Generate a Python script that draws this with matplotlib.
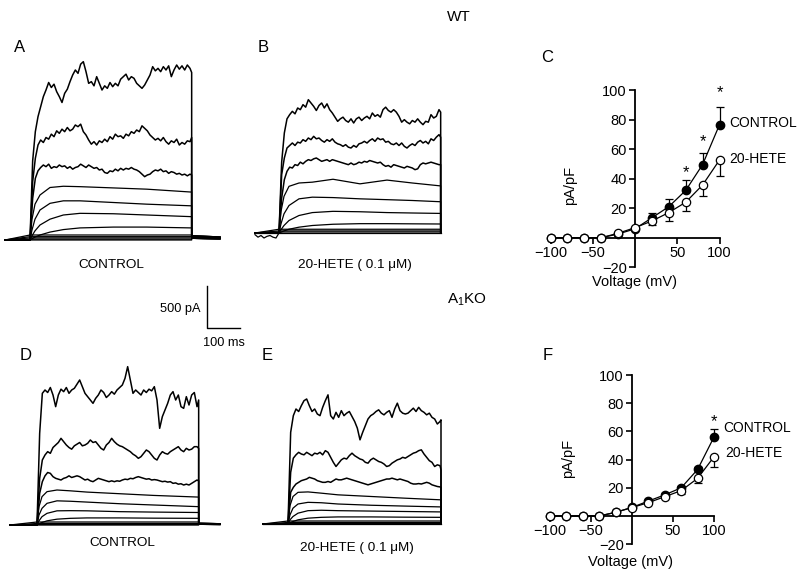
import matplotlib.pyplot as plt

plt.rcParams['font.family'] = ['Liberation Sans', 'DejaVu Sans']
plt.rcParams['mathtext.fontset'] = 'custom'
plt.rcParams['mathtext.rm'] = 'Liberation Sans'

LARG, ALT = 800, 579
MS_PX = 3.0    # ms por pixel
PA_PX = 12.0   # pA por pixel

# ---------------- curvas I-V (pA/pF) ----------------
voltagens = [-100, -80, -60, -40, -20, 0, 20, 40, 60, 80, 100]

c_controle = [0, 0, 0, 0, 2.5, 6, 13.5, 21, 32, 49.5, 76.5]
c_controle_erro = [0, 0, 0, 0, 0, 0, 3, 5, 7, 8, 12]
c_hete = [0, 0, 0, 0, 3, 6.8, 11.3, 17, 24, 35.7, 52.6]
c_hete_erro = [0, 0, 0, 0, 0, 0, 3, 6, 6, 7.5, 11]
c_estrelas_v = [60, 80, 100]
c_estrelas_y = [44, 65, 98]

f_controle = [0, 0, 0, 0, 2.6, 6.1, 10.6, 15, 20, 33, 56]
f_controle_erro = [0, 0, 0, 0, 0, 0, 0.5, 1, 1, 2, 6]
f_hete = [0, 0, 0, 0, 2.6, 6, 9.5, 13.7, 18, 26.7, 42]
f_hete_erro = [0, 0, 0, 0, 0, 0, 0.5, 1, 2.6, 3.5, 7]
f_estrelas_v = [100]
f_estrelas_y = [67]

# ---------------- correntes (ms, pA) ----------------
# tempos de leitura dos tracos ruidosos (A, B e D)
t_ruido = [0, 8, 16, 24, 32, 40, 48, 56,
           64, 72, 80, 88, 96, 104, 112, 120,
           128, 136, 144, 152, 160, 168, 176, 184,
           192, 200, 208, 216, 224, 232, 240, 248,
           256, 264, 272, 280, 288, 296, 304, 312,
           320, 328, 336, 344, 352, 360, 368, 376,
           384, 392, 400, 408, 416, 424, 432, 440,
           448, 456, 464, 472, 480, 485]
# painel E (pulso um pouco mais curto na figura)
t_ruido_e = [0, 8, 16, 24, 32, 40, 48, 56,
             64, 72, 80, 88, 96, 104, 112, 120,
             128, 136, 144, 152, 160, 168, 176, 184,
             192, 200, 208, 216, 224, 232, 240, 248,
             256, 264, 272, 280, 288, 296, 304, 312,
             320, 328, 336, 344, 352, 360, 368, 376,
             384, 392, 400, 408, 416, 424, 432, 440,
             448, 456, 459]

# painel A - WT controle
a1_i = [0, 950, 1300, 1480, 1600, 1720, 1800, 1890,
        1830, 1870, 1780, 1720, 1650, 1760, 1810, 1900,
        1980, 2040, 2000, 2110, 2140, 2020, 1880, 1900,
        1850, 1960, 1880, 1800, 1850, 1820, 1890, 1840,
        1880, 1850, 1930, 1960, 1990, 1920, 1960, 1940,
        1880, 1850, 1820, 1860, 1920, 1980, 2080, 2030,
        2060, 2020, 2080, 2040, 2090, 1960, 2040, 2100,
        2050, 2090, 2040, 2100, 2060, 2010]
a2_i = [0, 700, 980, 1140, 1200, 1170, 1230, 1210,
        1270, 1240, 1310, 1280, 1330, 1300, 1350, 1310,
        1330, 1380, 1360, 1390, 1300, 1260, 1200, 1150,
        1180, 1140, 1190, 1170, 1210, 1180, 1240, 1210,
        1270, 1240, 1250, 1220, 1270, 1250, 1300, 1280,
        1320, 1300, 1370, 1340, 1310, 1260, 1230, 1200,
        1220, 1190, 1230, 1180, 1150, 1190, 1170, 1210,
        1140, 1170, 1150, 1190, 1180, 1230]
a3_i = [0, 500, 740, 830, 870, 900, 880, 910,
        860, 880, 870, 900, 880, 890, 860, 880,
        850, 870, 880, 910, 890, 870, 900, 880,
        860, 870, 840, 850, 810, 800, 830, 820,
        850, 830, 860, 840, 860, 850, 870, 850,
        840, 820, 790, 760, 780, 790, 820, 840,
        830, 850, 820, 830, 800, 820, 810, 790,
        800, 780, 790, 770, 790, 780]
a_t_lento = [0, 6, 15, 30, 60, 100, 150, 250, 350, 485]
a4_i = [0, 250, 430, 540, 630, 645, 640, 625, 610, 575]
a5_i = [0, 120, 250, 360, 440, 470, 470, 450, 430, 410]
a6_i = [0, 50, 110, 180, 250, 300, 320, 315, 300, 280]
a7_i = [0, 15, 35, 60, 95, 125, 145, 155, 155, 145]
a_planos = [60, 40, 25, 10, 0]

# painel B - WT 20-HETE
b1_i = [0, 850, 1200, 1370, 1420, 1460, 1430, 1500,
        1480, 1540, 1510, 1600, 1560, 1520, 1470, 1530,
        1560, 1500, 1550, 1480, 1440, 1390, 1340, 1370,
        1390, 1350, 1330, 1370, 1320, 1370, 1390, 1350,
        1380, 1400, 1370, 1440, 1400, 1420, 1390, 1480,
        1510, 1470, 1450, 1480, 1450, 1400, 1330, 1360,
        1330, 1310, 1350, 1330, 1370, 1330, 1300, 1340,
        1330, 1420, 1380, 1400, 1480, 1450]
b2_i = [0, 700, 900, 1020, 1050, 1080, 1050, 1090,
        1080, 1120, 1100, 1140, 1120, 1160, 1130, 1140,
        1110, 1090, 1120, 1100, 1130, 1090, 1070, 1060,
        1040, 1060, 1030, 1020, 1050, 1030, 1070, 1080,
        1100, 1080, 1110, 1130, 1100, 1140, 1120, 1130,
        1090, 1100, 1070, 1060, 1080, 1050, 1080, 1040,
        1020, 1050, 1070, 1050, 1090, 1110, 1080, 1100,
        1070, 1130, 1110, 1150, 1180, 1150]
b3_i = [0, 420, 640, 740, 790, 780, 820, 810,
        850, 830, 860, 880, 870, 890, 900, 880,
        860, 870, 880, 860, 880, 870, 860, 850,
        840, 830, 820, 840, 820, 830, 850, 840,
        860, 850, 870, 860, 850, 840, 850, 820,
        800, 810, 790, 820, 810, 800, 790, 780,
        800, 790, 780, 760, 770, 820, 840, 830,
        840, 850, 840, 830, 820, 820]
b_t_lento = [0, 6, 15, 30, 60, 100, 162, 243, 324, 400, 485]
b4_i = [0, 260, 440, 560, 600, 610, 645, 590, 635, 600, 565]
b5_i = [0, 110, 230, 330, 410, 430, 425, 410, 400, 390, 375]
b6_i = [0, 40, 90, 150, 210, 245, 260, 255, 245, 240, 235]
b7_i = [0, 10, 25, 45, 70, 90, 105, 112, 112, 110, 108]
b_planos = [45, 25, 12, 0]
b_pre_t = [-72, -63, -54, -45, -36, -27, -18, -9, 0]
b_pre_i = [-20, -50, -30, -60, -40, -30, -50, -60, 0]

# painel D - A1KO controle
d1_i = [0, 1100, 1580, 1620, 1590, 1650, 1560, 1420,
        1560, 1630, 1600, 1650, 1580, 1620, 1640, 1690,
        1740, 1660, 1580, 1540, 1500, 1460, 1520, 1560,
        1620, 1590, 1530, 1560, 1600, 1570, 1620, 1650,
        1680, 1760, 1900, 1740, 1580, 1620, 1590, 1560,
        1620, 1590, 1630, 1610, 1660, 1500, 1160, 1300,
        1380, 1460, 1560, 1600, 1500, 1560, 1420, 1400,
        1540, 1440, 1560, 1590, 1420, 1500]
d2_i = [0, 560, 780, 840, 880, 860, 930, 960,
        990, 1040, 1000, 960, 930, 910, 950, 970,
        990, 950, 960, 980, 1020, 990, 1000, 960,
        920, 900, 960, 990, 1040, 1000, 970, 950,
        940, 920, 900, 880, 850, 830, 800, 820,
        860, 900, 880, 840, 800, 780, 840, 880,
        860, 850, 880, 900, 920, 940, 900, 880,
        920, 900, 910, 940, 940, 920]
d3_i = [0, 380, 520, 590, 630, 620, 580, 560,
        550, 540, 560, 570, 590, 570, 580, 590,
        580, 560, 540, 550, 530, 520, 540, 560,
        550, 540, 530, 520, 530, 520, 530, 525,
        540, 550, 545, 560, 555, 570, 580, 570,
        560, 550, 555, 540, 545, 540, 530, 520,
        525, 515, 520, 500, 505, 490, 495, 480,
        490, 480, 500, 520, 540, 530]
d_t_lento = [0, 6, 15, 30, 60, 100, 150, 250, 350, 485]
d4_i = [0, 220, 340, 400, 420, 410, 395, 375, 355, 335]
d5_i = [0, 120, 200, 260, 290, 285, 275, 255, 240, 220]
d6_i = [0, 50, 100, 140, 170, 172, 170, 160, 155, 150]
d7_i = [0, 15, 30, 50, 70, 80, 85, 85, 82, 80]
d_planos = [36, 18, 6, 0]

# painel E - A1KO 20-HETE
e1_i = [0, 1100, 1300, 1380, 1350, 1420, 1480, 1500,
        1420, 1350, 1380, 1320, 1300, 1400, 1480, 1550,
        1300, 1260, 1340, 1280, 1360, 1300, 1330, 1350,
        1290, 1230, 1150, 1010, 1100, 1180, 1260, 1300,
        1320, 1350, 1370, 1330, 1310, 1340, 1360, 1280,
        1380, 1450, 1360, 1330, 1320, 1330, 1360, 1390,
        1350, 1400, 1360, 1340, 1310, 1330, 1280, 1260,
        1200, 1230, 1250]
e2_i = [0, 620, 790, 830, 860, 840, 830, 860,
        840, 820, 850, 840, 860, 830, 880, 860,
        800, 740, 690, 730, 770, 790, 780, 820,
        850, 820, 800, 780, 770, 740, 730, 770,
        790, 770, 750, 740, 720, 690, 700, 730,
        750, 770, 780, 800, 790, 810, 830, 850,
        860, 880, 890, 840, 800, 760, 740, 690,
        710, 700, 650]
e3_i = [0, 380, 440, 480, 500, 520, 530, 540,
        560, 550, 540, 520, 510, 500, 500, 510,
        500, 520, 540, 530, 530, 540, 550, 540,
        530, 520, 510, 500, 490, 480, 470, 480,
        490, 500, 510, 520, 530, 540, 540, 550,
        540, 530, 540, 530, 520, 510, 490, 480,
        480, 485, 480, 490, 500, 490, 470, 460,
        450, 445, 440]
e_t_lento = [0, 6, 15, 30, 60, 100, 150, 250, 350, 459]
e4_i = [0, 220, 330, 380, 385, 370, 350, 330, 310, 290]
e5_i = [0, 110, 190, 240, 260, 255, 240, 225, 215, 205]
e6_i = [0, 50, 90, 130, 160, 165, 160, 155, 150, 145]
e7_i = [0, 15, 30, 50, 70, 80, 85, 85, 82, 80]
e_planos = [36, 18, 6, 0]

fig = plt.figure(figsize=(LARG / 100, ALT / 100), dpi=100)


def texto(x, y, s, **kw):
    # posicao em pixels (origem no canto superior esquerdo)
    kw.setdefault('ha', 'center')
    kw.setdefault('va', 'center')
    fig.text(x / LARG, 1 - y / ALT, s, **kw)


def eixo_traco(x0, y0, esq=40, dir=250):
    # x0, y0: pixel onde t=0 e I=0
    L, R = x0 - esq, x0 + dir
    T, B = y0 - 200, y0 + 12
    ax = fig.add_axes([L / LARG, 1 - B / ALT, (R - L) / LARG, (B - T) / ALT])
    ax.set_xlim((L - x0) * MS_PX, (R - x0) * MS_PX)
    ax.set_ylim((y0 - B) * PA_PX, (y0 - T) * PA_PX)
    ax.axis('off')
    return ax


def traco(ax, t, i, inicio, fim, cauda, lw=0.9):
    tt = [inicio] + list(t) + [t[-1]]
    ii = [0] + list(i) + [cauda]
    if fim is not None:
        tt.append(fim)
        ii.append(cauda * 0.7)
    ax.plot(tt, ii, color='black', lw=lw, solid_joinstyle='round')


def painel_tracos(ax, t_r, ruidosos, t_lento, lentos, planos, inicio, fim, cauda):
    for i in ruidosos:
        traco(ax, t_r, i, inicio, fim, cauda, lw=1.1)
    for i in lentos:
        traco(ax, t_lento, i, inicio, fim, cauda * 0.6, lw=0.9)
    for p in planos:
        traco(ax, [0, t_lento[-1]], [p, p], inicio, fim, cauda * 0.4, lw=0.9)


# painel A
ax_a = eixo_traco(30, 240)
painel_tracos(ax_a, t_ruido, [a1_i, a2_i, a3_i], a_t_lento,
              [a4_i, a5_i, a6_i, a7_i], a_planos, -75, 570, 50)

# painel B
ax_b = eixo_traco(279, 233)
painel_tracos(ax_b, t_ruido, [b1_i, b2_i, b3_i], b_t_lento,
              [b4_i, b5_i, b6_i, b7_i], b_planos, -72, None, 0)
ax_b.plot(b_pre_t, b_pre_i, color='black', lw=0.9)

# painel D
ax_d = eixo_traco(37, 525)
painel_tracos(ax_d, t_ruido, [d1_i, d2_i, d3_i], d_t_lento,
              [d4_i, d5_i, d6_i, d7_i], d_planos, -81, 549, 20)

# painel E
ax_e = eixo_traco(288, 524)
painel_tracos(ax_e, t_ruido_e, [e1_i, e2_i, e3_i], e_t_lento,
              [e4_i, e5_i, e6_i, e7_i], e_planos, -75, None, 0)

# barra de escala: 100 ms x 500 pA
ax_esc = eixo_traco(207, 328)
ax_esc.plot([0, 0, 100], [500, 0, 0], color='black', lw=1, clip_on=False)


def eixo_iv(x0, y0, px_v, px_y):
    L, R = x0 - 110 * px_v, x0 + 105 * px_v
    T, B = y0 - 105 * px_y, y0 + 22 * px_y
    ax = fig.add_axes([L / LARG, 1 - B / ALT, (R - L) / LARG, (B - T) / ALT])
    ax.set_xlim(-110, 105)
    ax.set_ylim(-22, 105)
    for lado in ['top', 'right']:
        ax.spines[lado].set_visible(False)
    ax.spines['left'].set_position(('data', 0))
    ax.spines['bottom'].set_position(('data', 0))
    ax.spines['left'].set_bounds(-20, 100)
    ax.spines['bottom'].set_bounds(-100, 100)
    ax.spines['left'].set_linewidth(1.3)
    ax.spines['bottom'].set_linewidth(1.3)
    ax.set_yticks([-20, 20, 40, 60, 80, 100])
    ax.set_xticks([-100, -50, 50, 100])
    ax.tick_params(direction='out', length=4, width=1.2, labelsize=10.5, pad=2)
    ax.patch.set_alpha(0)
    return ax


def curva_iv(ax, controle, erro_c, hete, erro_h, est_v, est_y):
    zeros = [0] * len(voltagens)
    ax.errorbar(voltagens, controle, yerr=[zeros, erro_c], color='black', lw=0.9,
                marker='o', ms=6, mfc='black', mec='black', capsize=3, elinewidth=0.9,
                capthick=0.9, clip_on=False, zorder=3)
    ax.errorbar(voltagens, hete, yerr=[erro_h, zeros], color='black', lw=0.9,
                marker='o', ms=6, mfc='white', mec='black', mew=0.9, capsize=3,
                elinewidth=0.9, capthick=0.9, clip_on=False, zorder=4)
    for v, y in zip(est_v, est_y):
        ax.text(v, y, '*', ha='center', va='center', fontsize=12)


ax_c = eixo_iv(635, 237.7, 0.845, 1.477)
curva_iv(ax_c, c_controle, c_controle_erro, c_hete, c_hete_erro, c_estrelas_v, c_estrelas_y)

ax_f = eixo_iv(632, 516, 0.82, 1.41)
curva_iv(ax_f, f_controle, f_controle_erro, f_hete, f_hete_erro, f_estrelas_v, f_estrelas_y)

# textos
texto(459, 17, 'WT', fontsize=11)
texto(467, 300, r'A$_\mathregular{1}$KO', fontsize=11)
texto(20, 47, 'A', fontsize=12)
texto(263, 47, 'B', fontsize=12)
texto(547, 57, 'C', fontsize=12)
texto(26, 355, 'D', fontsize=12)
texto(267, 355, 'E', fontsize=12)
texto(548, 355, 'F', fontsize=12)

texto(111, 265, 'CONTROL', fontsize=9.7)
texto(355, 265, '20-HETE ( 0.1 \u03bcM)', fontsize=9.7)
texto(122, 543, 'CONTROL', fontsize=9.7)
texto(357, 548, '20-HETE ( 0.1 \u03bcM)', fontsize=9.7)

texto(200, 309, '500 pA', fontsize=9.2, ha='right')
texto(224, 343, '100 ms', fontsize=9.2)

texto(729, 123, 'CONTROL', fontsize=10, ha='left')
texto(729, 159, '20-HETE', fontsize=10, ha='left')
texto(570, 185, 'pA/pF', fontsize=10.5, rotation=90)
texto(635, 282, 'Voltage (mV)', fontsize=10.5)

texto(723, 428, 'CONTROL', fontsize=10, ha='left')
texto(725, 453, '20-HETE', fontsize=10, ha='left')
texto(568, 458, 'pA/pF', fontsize=10.5, rotation=90)
texto(630, 562, 'Voltage (mV)', fontsize=10.5)

fig.savefig('out.png', dpi=100)
